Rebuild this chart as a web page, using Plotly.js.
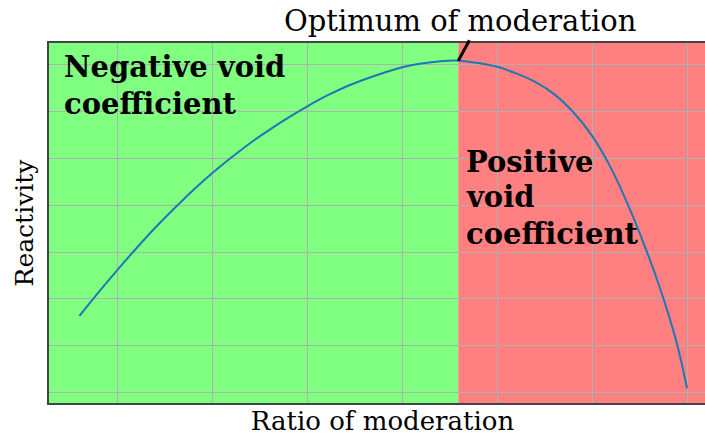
<!DOCTYPE html>
<html>
<head>
<meta charset="utf-8">
<script src="https://cdn.plot.ly/plotly-3.0.1.min.js"></script>
<style>
html,body{margin:0;padding:0;overflow:hidden;background:#fff;}
#chart{width:717px;height:437px;}
</style>
</head>
<body>
<div id="chart"></div>
<script>
// Curve (ratio of moderation vs reactivity)
const moderation = [0.6, 0.8, 1.0, 1.2, 1.4, 1.6, 1.8, 2.0, 2.2, 2.4, 2.6, 2.8, 3.0, 3.2, 3.4, 3.6, 3.8, 4.0, 4.2, 4.4, 4.6, 4.8, 5.0, 5.2, 5.4, 5.6, 5.8, 6.0, 6.2, 6.4, 6.6, 6.7, 6.8, 6.9, 7.0];
const reactivity = [1.64, 2.14, 2.62, 3.08, 3.52, 3.93, 4.32, 4.68, 5.01, 5.32, 5.60, 5.86, 6.10, 6.32, 6.51, 6.67, 6.81, 6.93, 7.01, 7.06, 7.07, 7.02, 6.94, 6.80, 6.62, 6.36, 5.98, 5.47, 4.78, 3.90, 2.88, 2.32, 1.70, 1.00, 0.10];
const optimum = 4.59;           // boundary between the two regimes
const optimumReactivity = 7.07;
const xRange = [0.279, 7.305];
const yRange = [-0.213, 7.447];
const labels = {
  x: 'Ratio of moderation',
  y: 'Reactivity',
  optimum: 'Optimum of moderation',
  negative: ['Negative void', 'coefficient'],
  positive: ['Positive', 'void', 'coefficient']
};
const negativeY = [6.94, 6.15];
const positiveY = [4.91, 4.17, 3.38];

const serif = 'DejaVu Serif, serif';
const annotations = [];
labels.negative.forEach((t, i) => annotations.push({
  text: '<b>' + t + '</b>', xref: 'x', yref: 'y', x: 0.42, y: negativeY[i],
  xanchor: 'left', yanchor: 'middle', showarrow: false,
  font: {family: serif, size: 29, color: '#000'}
}));
labels.positive.forEach((t, i) => annotations.push({
  text: '<b>' + t + '</b>', xref: 'x', yref: 'y', x: 4.648, y: positiveY[i],
  xanchor: 'left', yanchor: 'middle', showarrow: false,
  font: {family: serif, size: 29, color: '#000'}
}));
annotations.push({
  text: '', xref: 'x', yref: 'y', x: optimum, y: optimumReactivity,
  showarrow: true, arrowhead: 0, arrowwidth: 3, arrowcolor: '#000',
  ax: 12, ay: -22, standoff: 0, startstandoff: 0
});
annotations.push({
  text: labels.optimum, xref: 'x', yref: 'paper', x: optimum + 0.02, y: 1,
  yshift: 22, xanchor: 'center', yanchor: 'middle', showarrow: false,
  font: {family: serif, size: 29, color: '#000'}
});

const data = [{
  x: moderation, y: reactivity, type: 'scatter', mode: 'lines',
  line: {color: '#1f77b4', width: 2, shape: 'spline', smoothing: 1},
  hoverinfo: 'skip'
}];

const layout = {
  width: 717, height: 437,
  margin: {l: 49, r: 1, t: 43, b: 34},
  paper_bgcolor: '#fff', plot_bgcolor: '#fff',
  showlegend: false,
  xaxis: {
    range: xRange, dtick: 1, tick0: 0, showticklabels: false, ticks: '',
    showgrid: true, gridcolor: '#b0b0b0', gridwidth: 1, zeroline: false,
    showline: true, linecolor: '#444', linewidth: 2, mirror: true,
    title: {text: labels.x, font: {family: serif, size: 26, color: '#000'}, standoff: 8}
  },
  yaxis: {
    range: yRange, dtick: 1, tick0: 0, showticklabels: false, ticks: '',
    showgrid: true, gridcolor: '#b0b0b0', gridwidth: 1, zeroline: false,
    showline: true, linecolor: '#444', linewidth: 2,
    title: {text: labels.y, font: {family: serif, size: 25, color: '#000'}, standoff: 6}
  },
  shapes: [
    {type: 'rect', xref: 'x', yref: 'paper', x0: xRange[0], x1: optimum, y0: 0, y1: 1,
     fillcolor: '#80ff80', line: {width: 0}, layer: 'below'},
    {type: 'rect', xref: 'x', yref: 'paper', x0: optimum, x1: xRange[1], y0: 0, y1: 1,
     fillcolor: '#ff8080', line: {width: 0}, layer: 'below'}
  ],
  annotations: annotations
};

Plotly.newPlot('chart', data, layout, {displayModeBar: false, staticPlot: true});
</script>
</body>
</html>
